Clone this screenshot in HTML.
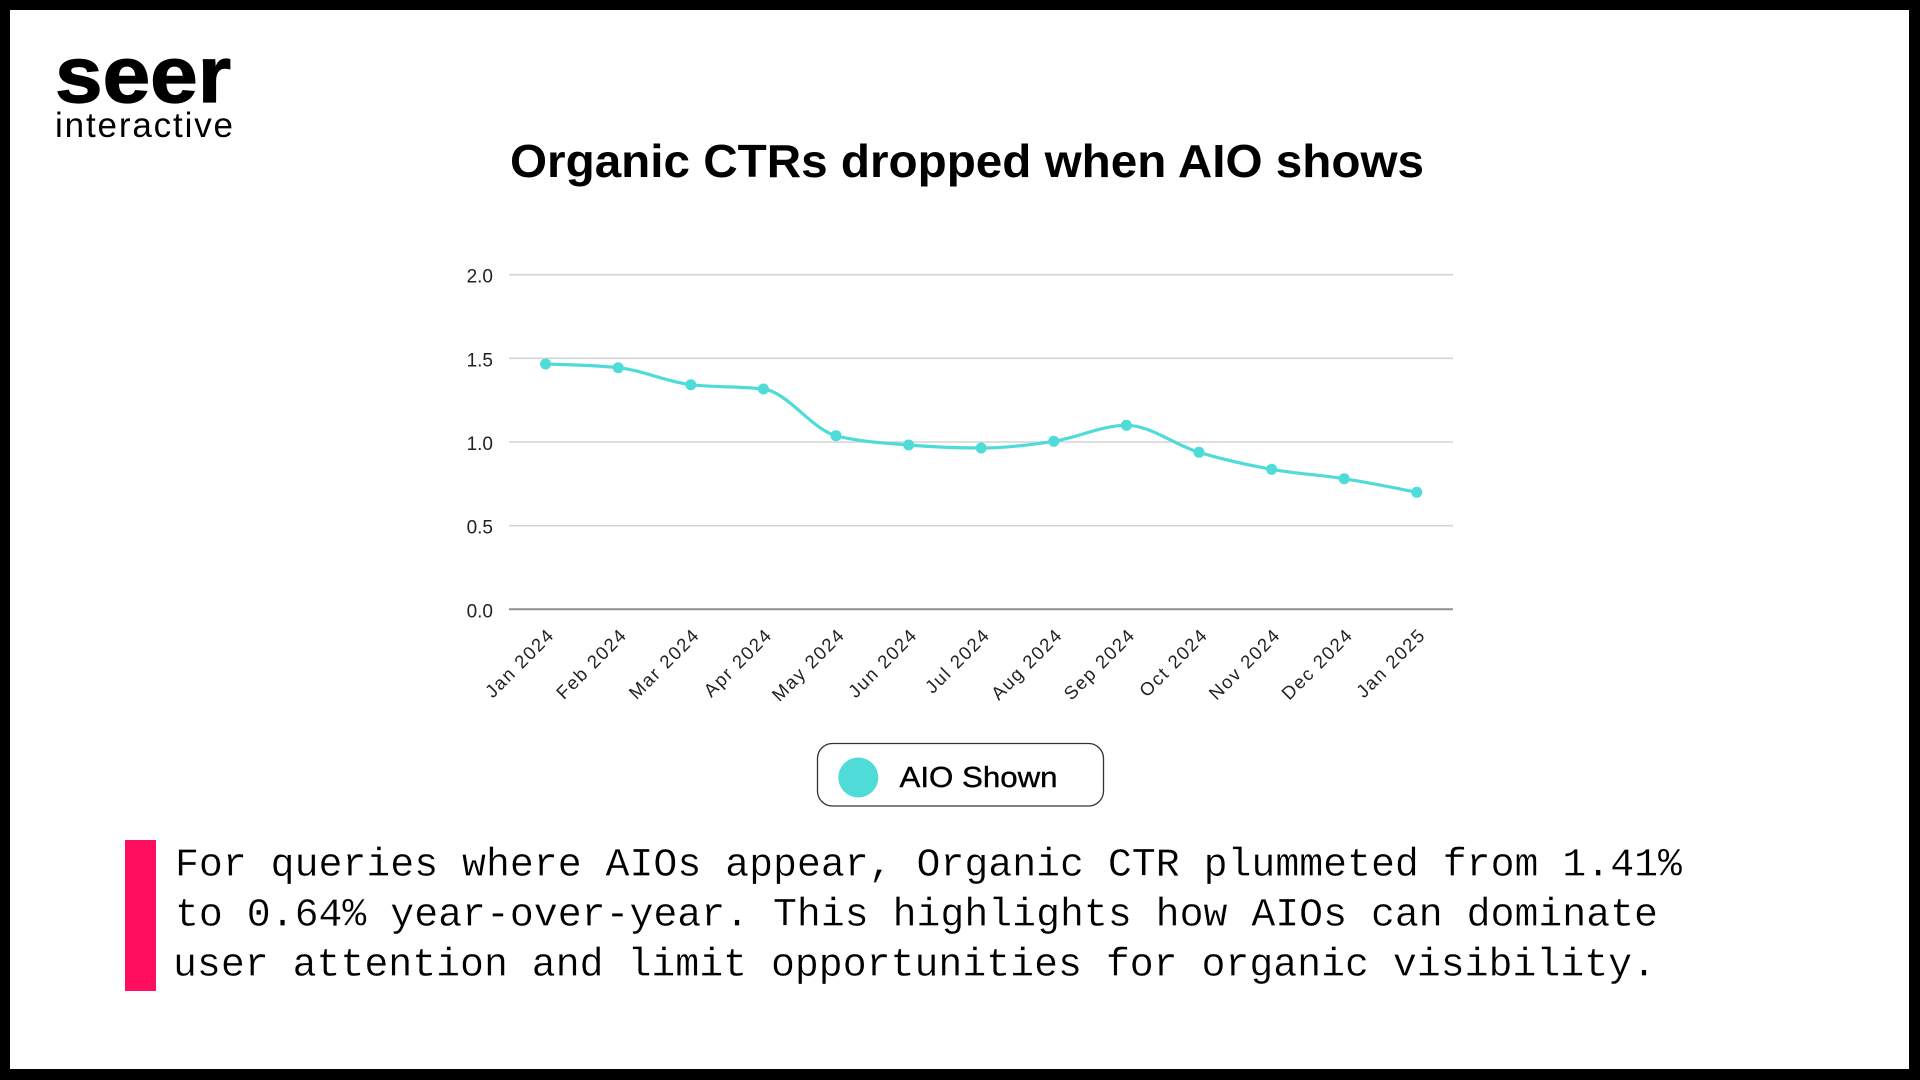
<!DOCTYPE html>
<html>
<head>
<meta charset="utf-8">
<style>
  html, body { margin: 0; padding: 0; background: #000; }
  body { width: 1920px; height: 1080px; overflow: hidden; }
  svg { display: block; }
</style>
</head>
<body>
<svg width="1920" height="1080" viewBox="0 0 1920 1080" xmlns="http://www.w3.org/2000/svg">
  <rect x="0" y="0" width="1920" height="1080" fill="#000"/>
  <rect x="10" y="10" width="1899" height="1059" fill="#fff"/>

  <!-- logo -->
  <text x="55" y="102" font-family="Liberation Sans, sans-serif" font-weight="bold" font-size="80" textLength="176" lengthAdjust="spacingAndGlyphs" fill="#000" stroke="#000" stroke-width="1.2">seer</text>
  <text x="55" y="137" font-family="Liberation Sans, sans-serif" font-size="35" textLength="178" lengthAdjust="spacing" fill="#000">interactive</text>

  <!-- title -->
  <text x="510" y="177" font-family="Liberation Sans, sans-serif" font-weight="bold" font-size="46" textLength="914" lengthAdjust="spacingAndGlyphs" fill="#000">Organic CTRs dropped when AIO shows</text>

  <!-- gridlines -->
  <g stroke="#d4d4d4" stroke-width="1.6">
    <line x1="509" y1="274.7" x2="1453" y2="274.7"/>
    <line x1="509" y1="358.3" x2="1453" y2="358.3"/>
    <line x1="509" y1="442.0" x2="1453" y2="442.0"/>
    <line x1="509" y1="525.7" x2="1453" y2="525.7"/>
  </g>
  <line x1="509" y1="609.3" x2="1453" y2="609.3" stroke="#8f8f8f" stroke-width="2"/>

  <!-- y labels -->
  <g font-family="Liberation Sans, sans-serif" font-size="19" fill="#222" text-anchor="end">
    <text x="493" y="282.7">2.0</text>
    <text x="493" y="366.3">1.5</text>
    <text x="493" y="450.0">1.0</text>
    <text x="493" y="533.7">0.5</text>
    <text x="493" y="617.3">0.0</text>
  </g>

  <!-- x labels -->
  <g font-family="Liberation Sans, sans-serif" font-size="18.5" fill="#222" text-anchor="end" letter-spacing="1.6">
    <text transform="translate(555.6,636) rotate(-45)">Jan 2024</text>
    <text transform="translate(628.2,636) rotate(-45)">Feb 2024</text>
    <text transform="translate(700.8,636) rotate(-45)">Mar 2024</text>
    <text transform="translate(773.4,636) rotate(-45)">Apr 2024</text>
    <text transform="translate(846.0,636) rotate(-45)">May 2024</text>
    <text transform="translate(918.6,636) rotate(-45)">Jun 2024</text>
    <text transform="translate(991.2,636) rotate(-45)">Jul 2024</text>
    <text transform="translate(1063.8,636) rotate(-45)">Aug 2024</text>
    <text transform="translate(1136.4,636) rotate(-45)">Sep 2024</text>
    <text transform="translate(1209.0,636) rotate(-45)">Oct 2024</text>
    <text transform="translate(1281.6,636) rotate(-45)">Nov 2024</text>
    <text transform="translate(1354.2,636) rotate(-45)">Dec 2024</text>
    <text transform="translate(1426.8,636) rotate(-45)">Jan 2025</text>
  </g>

  <!-- series line -->
  <path fill="none" stroke="#4fdcd9" stroke-width="3.2" stroke-linejoin="round" stroke-linecap="round"
    d="M545.6,364 C569.8,364.62 594.0,365.23 618.2,367.7
       C642.4,370.17 666.6,381.83 690.8,384.7
       C715.0,387.57 739.2,386.13 763.4,389.0
       C787.6,391.87 811.8,429.5 836.0,435.7
       C860.2,441.9 884.4,443.0 908.6,445.0
       C932.8,447.0 957.0,448.0 981.2,448.0
       C1005.4,448.0 1029.6,445.08 1053.8,441.3
       C1078.0,437.52 1102.2,425.3 1126.4,425.3
       C1150.6,425.3 1174.8,444.97 1199.0,452.3
       C1223.2,459.63 1247.4,464.9 1271.6,469.3
       C1295.8,473.7 1320.0,474.87 1344.2,478.7
       C1368.4,482.53 1392.6,487.42 1416.8,492.3"/>
  <g fill="#4fdcd9">
    <circle cx="545.6" cy="364.0" r="5.5"/>
    <circle cx="618.2" cy="367.7" r="5.5"/>
    <circle cx="690.8" cy="384.7" r="5.5"/>
    <circle cx="763.4" cy="389.0" r="5.5"/>
    <circle cx="836.0" cy="435.7" r="5.5"/>
    <circle cx="908.6" cy="445.0" r="5.5"/>
    <circle cx="981.2" cy="448.0" r="5.5"/>
    <circle cx="1053.8" cy="441.3" r="5.5"/>
    <circle cx="1126.4" cy="425.3" r="5.5"/>
    <circle cx="1199.0" cy="452.3" r="5.5"/>
    <circle cx="1271.6" cy="469.3" r="5.5"/>
    <circle cx="1344.2" cy="478.7" r="5.5"/>
    <circle cx="1416.8" cy="492.3" r="5.5"/>
  </g>

  <!-- legend -->
  <rect x="817.5" y="743.5" width="286" height="62.5" rx="15" ry="15" fill="#fff" stroke="#333" stroke-width="1.3"/>
  <circle cx="858.3" cy="777.5" r="20" fill="#4fdcd9"/>
  <text x="899.5" y="787" font-family="Liberation Sans, sans-serif" font-size="29" textLength="158" lengthAdjust="spacingAndGlyphs" fill="#000" stroke="#000" stroke-width="0.4">AIO Shown</text>

  <!-- callout -->
  <rect x="125" y="840" width="31" height="151" fill="#ff0d5f"/>
  <g font-family="Liberation Mono, monospace" font-size="39.9" fill="#000" stroke="#fff" stroke-width="0.3">
    <text x="175" y="875.7" textLength="1507" lengthAdjust="spacing" xml:space="preserve">For queries where AIOs appear, Organic CTR plummeted from 1.41%</text>
    <text x="175" y="925.5" textLength="1483" lengthAdjust="spacing" xml:space="preserve">to 0.64% year-over-year. This highlights how AIOs can dominate</text>
    <text x="173" y="975.3" textLength="1483" lengthAdjust="spacing" xml:space="preserve">user attention and limit opportunities for organic visibility.</text>
  </g>
</svg>
</body>
</html>
